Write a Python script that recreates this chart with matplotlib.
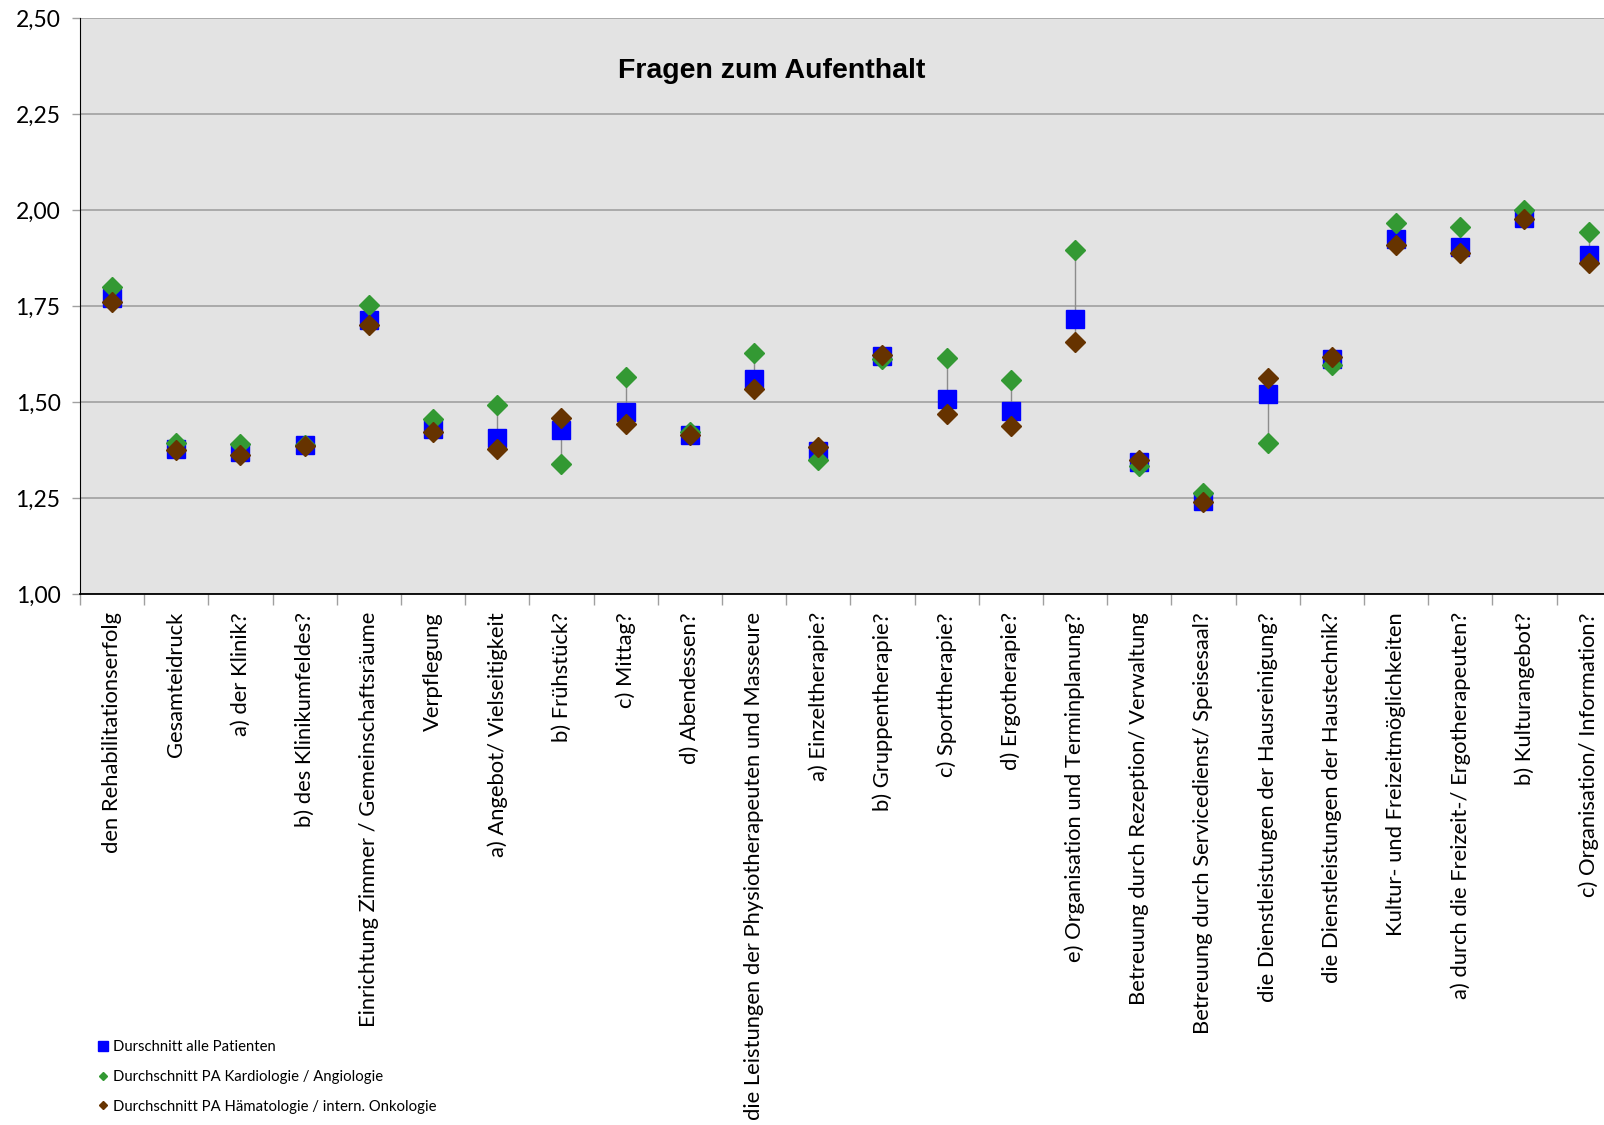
import numpy as np
import matplotlib
matplotlib.use("Agg")
import matplotlib.pyplot as plt
from matplotlib.lines import Line2D
from matplotlib.ticker import FixedLocator, FuncFormatter

categories = [
    "den Rehabilitationserfolg", "Gesamteidruck", "a) der Klinik?", "b) des Klinikumfeldes?",
    "Einrichtung Zimmer / Gemeinschaftsräume", "Verpflegung", "a) Angebot/ Vielseitigkeit",
    "b) Frühstück?", "c) Mittag?", "d) Abendessen?",
    "die Leistungen der Physiotherapeuten und Masseure", "a) Einzeltherapie?",
    "b) Gruppentherapie?", "c) Sporttherapie?", "d) Ergotherapie?",
    "e) Organisation und Terminplanung?", "Betreuung durch Rezeption/ Verwaltung",
    "Betreuung durch Servicedienst/ Speisesaal?", "die Dienstleistungen der Hausreinigung?",
    "die Dienstleistungen der Haustechnik?", "Kultur- und Freizeitmöglichkeiten",
    "a) durch die Freizeit-/ Ergotherapeuten?", "b) Kulturangebot?",
    "c) Organisation/ Information?",
]

alle = [1.770, 1.378, 1.369, 1.388, 1.714, 1.430, 1.407, 1.427, 1.473, 1.414, 1.560, 1.373,
        1.621, 1.508, 1.477, 1.716, 1.345, 1.243, 1.521, 1.612, 1.924, 1.904, 1.978, 1.883]
kardio = [1.800, 1.392, 1.390, 1.388, 1.753, 1.455, 1.492, 1.339, 1.564, 1.423, 1.628, 1.349,
          1.611, 1.615, 1.556, 1.896, 1.334, 1.262, 1.394, 1.596, 1.967, 1.956, 2.000, 1.943]
haema = [1.760, 1.375, 1.362, 1.386, 1.700, 1.423, 1.378, 1.459, 1.443, 1.414, 1.534, 1.382,
         1.622, 1.470, 1.437, 1.655, 1.349, 1.240, 1.563, 1.618, 1.909, 1.889, 1.976, 1.863]

labels = ["Durschnitt alle Patienten", "Durchschnitt PA Kardiologie / Angiologie",
          "Durchschnitt PA Hämatologie / intern. Onkologie"]
colors = ["#0000FF", "#339933", "#663300"]

plt.rcParams["font.family"] = ["Lato", "DejaVu Sans"]

W, H = 1604, 1125
fig = plt.figure(figsize=(W / 100, H / 100), dpi=100)
# plot area runs past the right edge of the picture, like the original
ax = fig.add_axes([80 / W, 1 - 594 / H, 64.2 * 24 / W, 576 / H])
ax.set_facecolor("#E3E3E3")

x = np.arange(len(categories))
lo = np.minimum(np.minimum(alle, kardio), haema)
hi = np.maximum(np.maximum(alle, kardio), haema)
ax.vlines(x, lo, hi, color="#8C8C8C", lw=1.0, zorder=2)

ax.plot(x, alle, ls="none", marker="s", ms=13.5, color=colors[0], mec=colors[0], zorder=3)
ax.plot(x, kardio, ls="none", marker="D", ms=9.8, color=colors[1], mec=colors[1], zorder=4)
ax.plot(x, haema, ls="none", marker="D", ms=9.8, color=colors[2], mec=colors[2], zorder=5)

ax.set_xlim(-0.5, len(categories) - 0.5)
ax.set_ylim(1.0, 2.5)
yt = [1.0, 1.25, 1.5, 1.75, 2.0, 2.25, 2.5]
ax.set_yticks(yt)
ax.yaxis.set_major_formatter(FuncFormatter(lambda v, p: f"{v:.2f}".replace(".", ",")))
ax.grid(axis="y", color="#A0A0A0", lw=1.2, zorder=1)
ax.set_axisbelow(True)
ax.tick_params(axis="y", direction="out", length=6, width=1, color="#A0A0A0",
               labelsize=16.5, pad=8)

ax.set_xticks(x)
ax.set_xticklabels(categories, rotation=90, fontsize=15.8)
ax.tick_params(axis="x", which="major", length=0, pad=13)
ax.xaxis.set_minor_locator(FixedLocator(np.arange(len(categories) + 1) - 0.5))
ax.tick_params(axis="x", which="minor", direction="out", length=8, width=1, color="#A0A0A0")

for s in ("top", "right"):
    ax.spines[s].set_visible(False)
ax.spines["left"].set_color("black")
ax.spines["bottom"].set_color("black")
ax.spines["bottom"].set_linewidth(1.3)

fig.text(772 / W, 1 - 71 / H, "Fragen zum Aufenthalt", ha="center", va="center",
         fontsize=20.5, fontweight="bold", family=["Liberation Sans", "DejaVu Sans"])

handles = [Line2D([], [], ls="none", marker="s", ms=7, color=colors[0]),
           Line2D([], [], ls="none", marker="D", ms=4.5, color=colors[1]),
           Line2D([], [], ls="none", marker="D", ms=4.5, color=colors[2])]
fig.legend(handles, labels, loc="center left", bbox_to_anchor=(99 / W, 1 - 1077 / H),
           frameon=False, fontsize=10.7, handlelength=0.6, handletextpad=0.35,
           labelspacing=1.05, borderpad=0, borderaxespad=0)

fig.savefig("out.png", dpi=100)
